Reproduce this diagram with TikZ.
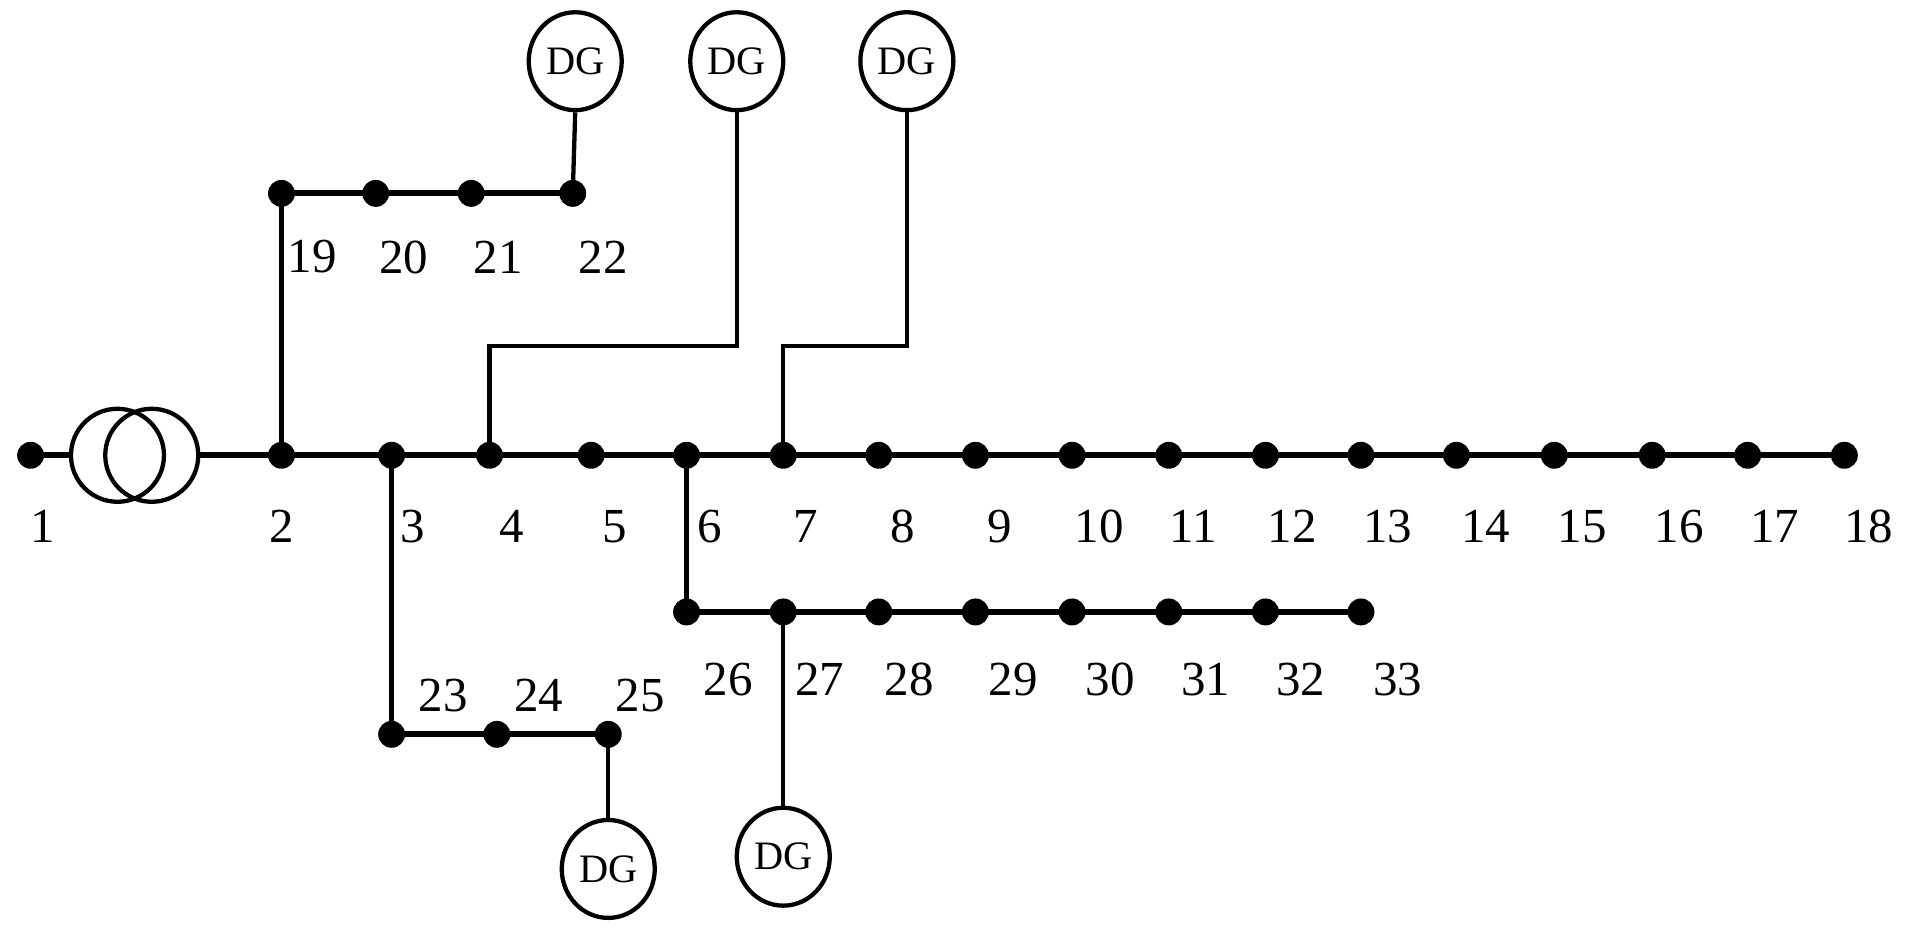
\documentclass[tikz,border=0pt]{standalone}
\usepackage{fontspec}
\setmainfont{Liberation Serif}
\usetikzlibrary{shapes.geometric}
\begin{document}
\begin{tikzpicture}[x=1pt,y=-1pt,
  bus/.style={circle,fill=black,inner sep=0pt,minimum size=22pt},
  dg/.style={ellipse,draw,line width=3.5pt,minimum width=76pt,minimum height=80pt,inner sep=0pt,font=\fontsize{33}{33}\selectfont},
  lbl/.style={font=\fontsize{40}{40}\selectfont},
  thick line/.style={line width=5pt},
  thin line/.style={line width=3.5pt}]
\useasboundingbox (0,0) rectangle (1568,758);
% main buses
\foreach \n/\x in {1/25,2/230,3/320,4/400,5/483,6/561,7/640,8/718,9/797,10/876,11/955,12/1034,13/1112,14/1190,15/1270,16/1350,17/1428,18/1507}{
  \node[bus] (b\n) at (\x,372) {};
}
\foreach \n/\x in {1/35,2/230,3/337,4/418,5/502,6/580,7/658,8/738,9/817,10/898,11/975,12/1056,13/1134,14/1214,15/1293,16/1372,17/1450,18/1527}{
  \node[lbl] (l\n) at (\x,430) {\n};
}
\foreach \n/\x in {19/230,20/307,21/385,22/468}{ \node[bus] (b\n) at (\x,158) {}; }
\foreach \n/\x in {19/255,20/330,21/407,22/493}{ \node[lbl] (l\n) at (\x,210) {\n}; }
\foreach \n/\x in {23/320,24/406,25/497}{ \node[bus] (b\n) at (\x,600) {}; }
\foreach \n/\x in {23/362,24/440,25/523}{ \node[lbl] (l\n) at (\x,568) {\n}; }
\foreach \n/\x in {26/561,27/640,28/718,29/797,30/876,31/955,32/1034,33/1112}{ \node[bus] (b\n) at (\x,500) {}; }
\foreach \n/\x in {26/595,27/670,28/743,29/828,30/907,31/985,32/1063,33/1142}{ \node[lbl] (l\n) at (\x,555) {\n}; }
% transformer
\node[circle,draw,line width=3.5pt,minimum size=76pt,inner sep=0pt] (t1) at (96,372) {};
\node[circle,draw,line width=3.5pt,minimum size=76pt,inner sep=0pt] (t2) at (124,372) {};
% DGs
\node[dg] (d1) at (470,50) {DG};
\node[dg] (d2) at (602,50) {DG};
\node[dg] (d3) at (741,50) {DG};
\node[dg] (d4) at (497,710) {DG};
\node[dg] (d5) at (640,700) {DG};
\coordinate (c2) at (602,283);
\coordinate (c3) at (741,283);
% lines
\draw[thick line] (b1.center) -- (t1.west);
\draw[thick line] (t2.east) -- (b2.center) -- (b18.center);
\draw[thick line] (b19.center) -- (b22.center);
\draw[thick line] (b23.center) -- (b25.center);
\draw[thick line] (b26.center) -- (b33.center);
\draw[thin line] (b2.center) -- (b19.center);
\draw[thin line] (b3.center) -- (b23.center);
\draw[thin line] (b6.center) -- (b26.center);
\draw[thin line] (b22.center) -- (d1.south);
\draw[thin line] (b4.center) |- (c2) -- (d2.south);
\draw[thin line] (b7.center) |- (c3) -- (d3.south);
\draw[thin line] (b25.center) -- (d4.north);
\draw[thin line] (b27.center) -- (d5.north);
\end{tikzpicture}
\end{document}
